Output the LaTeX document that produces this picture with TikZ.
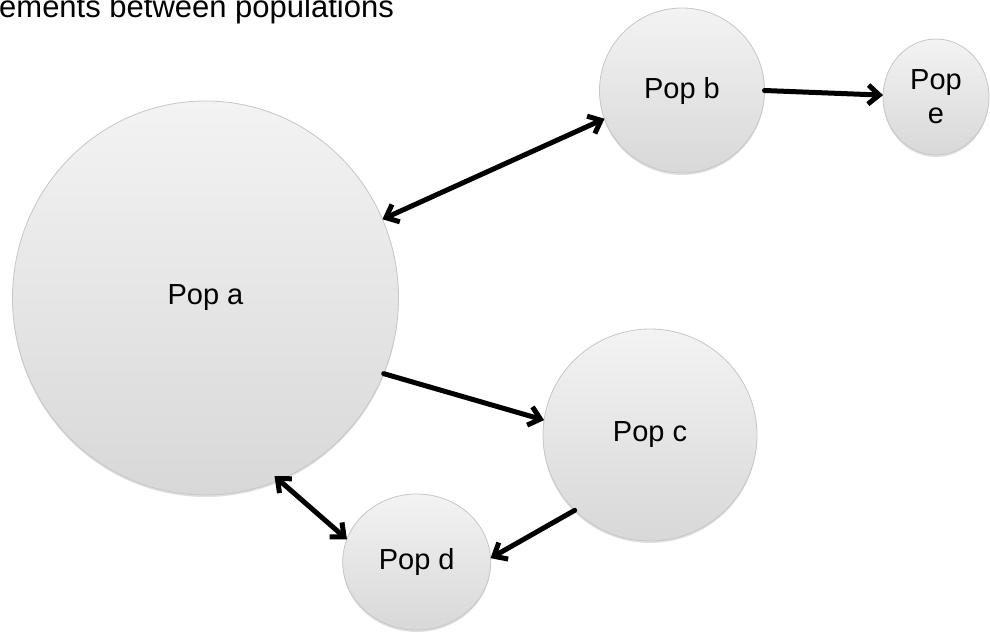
\documentclass[tikz,border=0pt]{standalone}
\usepackage{fontspec}
\setmainfont{Liberation Sans}
\usetikzlibrary{shapes.geometric,arrows.meta,shadows}
\definecolor{popTop}{HTML}{F3F3F3}
\definecolor{popBot}{HTML}{D8D8D8}
\definecolor{popEdge}{HTML}{C6C6C6}
\tikzset{
  pop/.style={ellipse, inner sep=0pt, outer sep=0pt, draw=popEdge, line width=0.8pt,
    top color=popTop, bottom color=popBot, align=center,
    font=\fontsize{29}{34}\selectfont,
    drop shadow={shadow xshift=0pt, shadow yshift=-2pt, fill=black, opacity=0.12}},
  link/.style={line width=5pt, line cap=round, line join=round},
  onehead/.style={link, -{Straight Barb[length=11pt,width=19pt]}},
  twohead/.style={link, {Straight Barb[length=11pt,width=19pt]}-{Straight Barb[length=11pt,width=19pt]}},
}
\begin{document}
\begin{tikzpicture}[x=1pt,y=-1pt]
\useasboundingbox (0,0) rectangle (990,632);
\node[anchor=base west, font=\fontsize{31}{36}\selectfont, inner sep=0pt] (title) at (-1,17) {ements between populations};
\node[pop, minimum width=386pt, minimum height=394pt] (a) at (205.5,298) {Pop a};
\node[pop, minimum width=165pt, minimum height=165pt] (b) at (682,90.5) {Pop b};
\node[pop, minimum width=214pt, minimum height=212pt] (c) at (650,435) {Pop c};
\node[pop, minimum width=148pt, minimum height=136pt] (d) at (416.7,562) {Pop d};
\node[pop, minimum width=106pt, minimum height=116pt] (e) at (936,97) {Pop\\e};
\draw[twohead] (a.24.5) -- (b.200);
\draw[onehead] (b.0) -- (e.178);
\draw[onehead] (a.-23.8) -- (c.172.4);
\draw[twohead, shorten <=-6pt] (a.-68.5) -- (d.162);
\draw[onehead] (c.-135.4) -- (d.3);
\end{tikzpicture}
\end{document}
